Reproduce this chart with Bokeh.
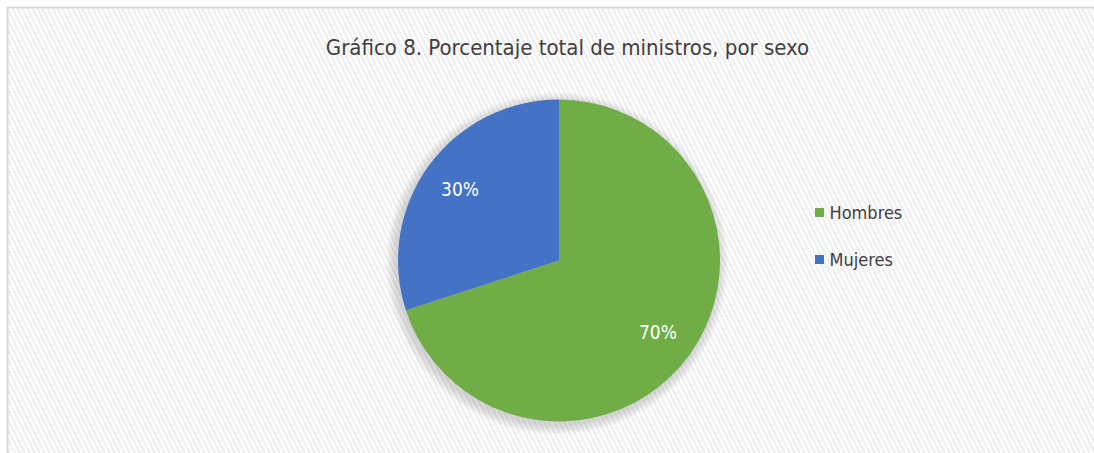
import numpy as np
from bokeh.plotting import figure
from bokeh.models import Range1d, ColumnDataSource
from bokeh.core.properties import value
from bokeh.embed import file_html
from bokeh.resources import INLINE

# Data
categories = ["Hombres", "Mujeres"]
percentages = [70, 30]
colors = ["#70AD47", "#4472C4"]
title_text = "Gráfico 8. Porcentaje total de ministros, por sexo"

W, H = 1094, 453
FONT = "'DejaVu Sans Condensed', 'Liberation Sans Narrow', 'Roboto', sans-serif"

p = figure(width=W, height=H, output_backend="svg", toolbar_location=None,
           x_range=Range1d(0, W), y_range=Range1d(0, H), min_border=0,
           match_aspect=False)
p.axis.visible = False
p.grid.visible = False
p.outline_line_color = None
p.background_fill_color = "white"
p.border_fill_color = "white"

# hatched background
p.quad(left=[7], right=[W + 5], bottom=[-5], top=[H - 7], fill_color="white", line_color=None,
       hatch_pattern="\\", hatch_color="#efefef", hatch_weight=2.5, hatch_scale=10, hatch_alpha=1.0)
# border (left/top visible)
p.line(x=[7, 7, W + 5], y=[-5, H - 7, H - 7], line_color="#d9d9d9", line_width=2)

cx, cy, R = 558.5, 193, 161

# soft shadow
for i in range(10):
    p.circle(x=[cx - 2], y=[cy - 3], radius=R + 10 - i, fill_color="#808080",
             fill_alpha=0.03, line_color=None)

# wedges: start at 12 o'clock, clockwise
fracs = np.array(percentages) / sum(percentages)
cum = np.concatenate([[0], np.cumsum(fracs)])
ends = np.pi / 2 - 2 * np.pi * cum[:-1]
starts = np.pi / 2 - 2 * np.pi * cum[1:]
src = ColumnDataSource(dict(start=starts, end=ends, color=colors, cat=categories))
p.wedge(x=cx, y=cy, radius=R, start_angle="start", end_angle="end",
        fill_color="color", line_color=None, source=src)

mids = (starts + ends) / 2
lx = cx + 0.76 * R * np.cos(mids)
ly = cy + 0.76 * R * np.sin(mids)
p.text(x=lx, y=ly, text=[f"{v}%" for v in percentages], text_color="white",
       text_font=value(FONT), text_font_size="19px", text_align="center",
       text_baseline="middle")

# title
p.text(x=[567], y=[406], text=[title_text], text_color="#404040",
       text_font=value(FONT), text_font_size="22px", text_align="center",
       text_baseline="middle")

# legend
leg_y = [241 - 47 * i for i in range(len(categories))]
p.scatter(x=[819] * len(categories), y=leg_y, marker="square", size=9,
          fill_color=colors, line_color=None)
p.text(x=[829] * len(categories), y=leg_y, text=categories, text_color="#404040",
       text_font=value(FONT), text_font_size="18px", text_align="left",
       text_baseline="middle")

open("out.html", "w").write(file_html(p, INLINE))
